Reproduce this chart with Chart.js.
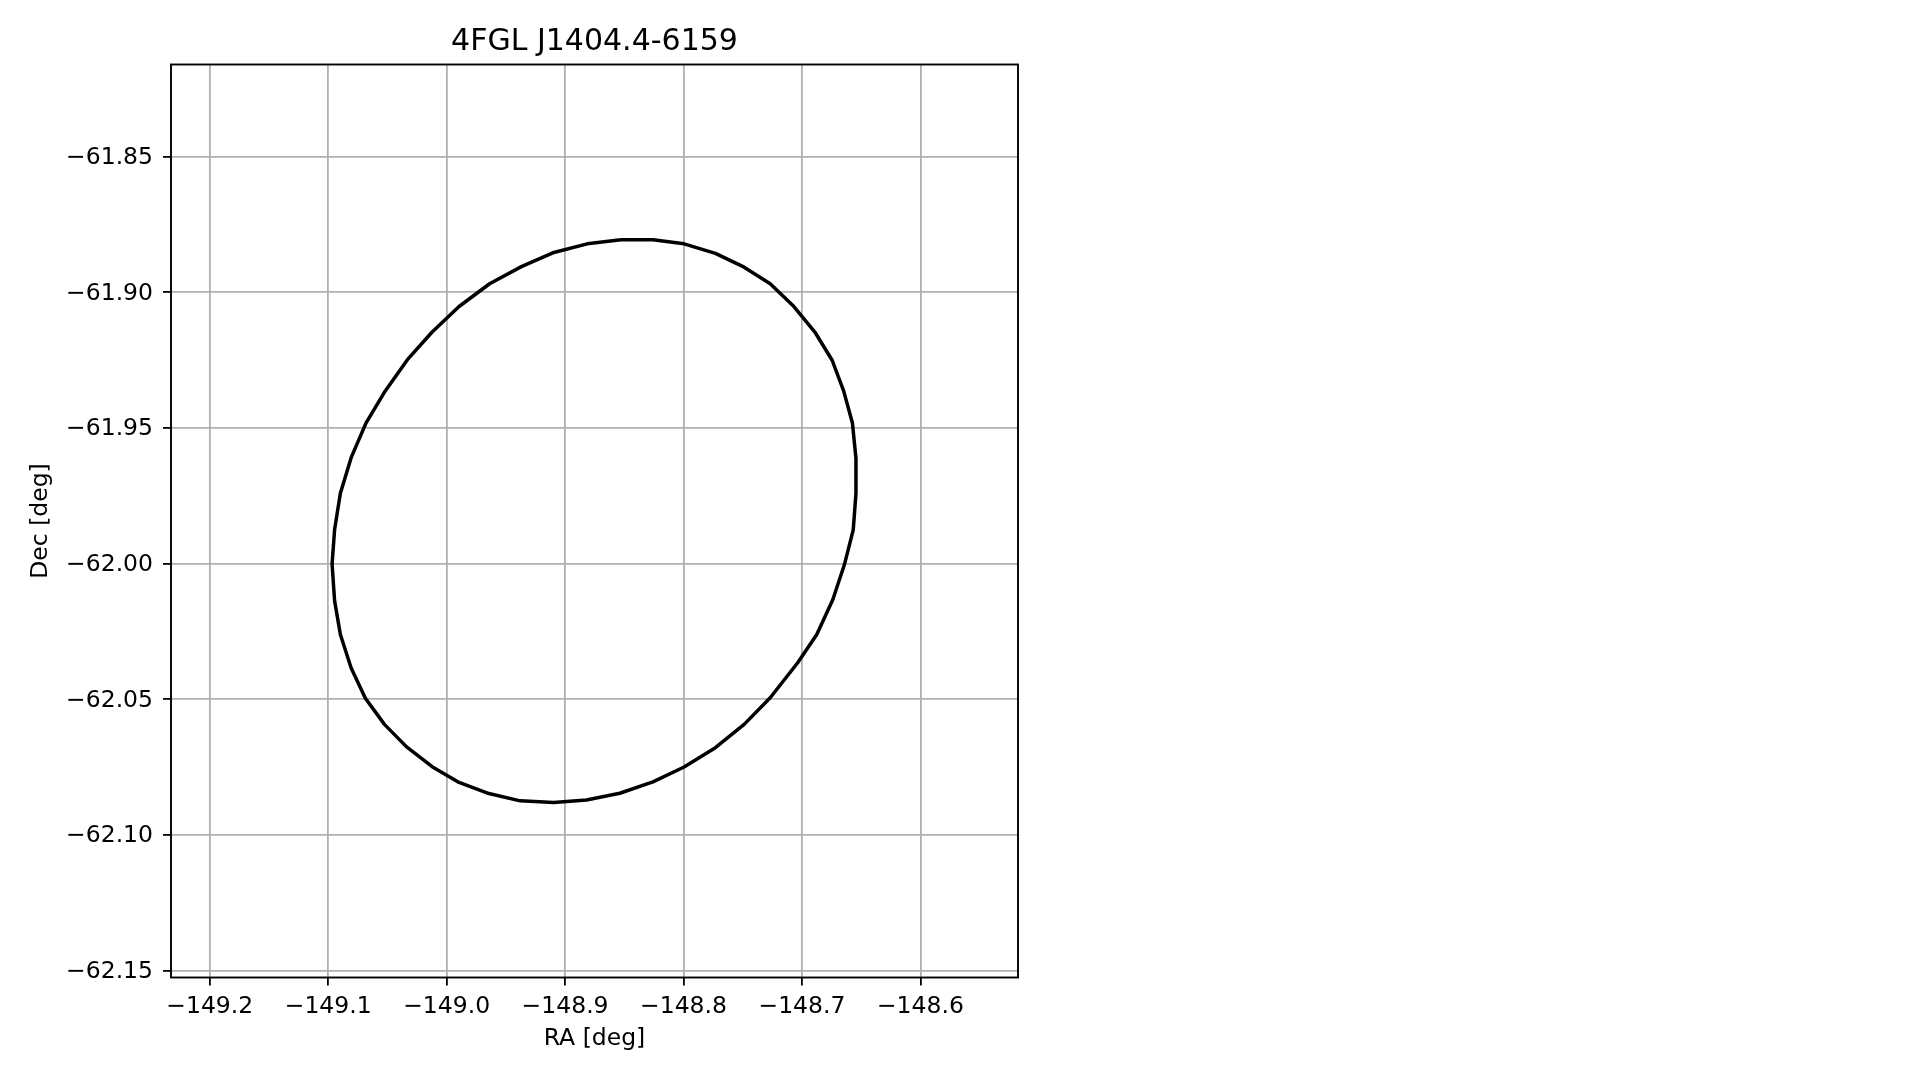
<!DOCTYPE html>
<html>
<head>
<meta charset="utf-8">
<script src="https://cdn.jsdelivr.net/npm/chart.js@4/dist/chart.umd.min.js"></script>
<style>
  html, body { margin: 0; padding: 0; background: #fff; }
  #wrap { width: 1919px; height: 1080px; }
</style>
</head>
<body>
<div id="wrap"><canvas id="chart-ellipse" width="1919" height="1080"></canvas></div>
<script>
/* Source error ellipse (clockwise from the top) */
const TITLE = '4FGL J1404.4-6159';
const X_LABEL = 'RA [deg]';
const Y_LABEL = 'Dec [deg]';

const raValues = [
  -148.8529, -148.8258, -148.7995, -148.7731, -148.7488, -148.7268, -148.7068,
  -148.6891, -148.6745, -148.6648, -148.6574, -148.6544, -148.6544, -148.6567,
  -148.6642, -148.6739, -148.6875, -148.7036, -148.7268, -148.7488, -148.7731,
  -148.7995, -148.8258, -148.8538, -148.8819, -148.9097, -148.9379, -148.9643,
  -148.9895, -149.0122, -149.0338, -149.0525, -149.0686, -149.0806, -149.0897,
  -149.0946, -149.0967, -149.0946, -149.0897, -149.0806, -149.0680, -149.0518,
  -149.0331, -149.0122, -148.9895, -148.9637, -148.9369, -148.9103, -148.8813,
  -148.8529
];
const decValues = [
  -61.8807, -61.8807, -61.8822, -61.8857, -61.8908, -61.8969, -61.9053,
  -61.9147, -61.9251, -61.9364, -61.9482, -61.9613, -61.9741, -61.9876,
  -62.0005, -62.0133, -62.0262, -62.0366, -62.0495, -62.0593, -62.0679,
  -62.0750, -62.0805, -62.0847, -62.0872, -62.0881, -62.0875, -62.0848,
  -62.0807, -62.0749, -62.0676, -62.0593, -62.0497, -62.0385, -62.0262,
  -62.0137, -62.0002, -61.9876, -61.9741, -61.9610, -61.9482, -61.9364,
  -61.9249, -61.9147, -61.9053, -61.8969, -61.8906, -61.8855, -61.8822,
  -61.8807
];

/* axis limits and tick spacing */
const xLimits = [-149.2327, -148.5176];
const yLimits = [-62.1526, -61.8161];
const xStep = 0.1;
const yStep = 0.05;

const FONT = "'DejaVu Sans', 'Liberation Sans', sans-serif";
const GRID = '#b0b0b0';

/* matplotlib-style minus sign */
function fmt(v, d) {
  const s = Math.abs(v).toFixed(d);
  return v < 0 ? '\u2212' + s : s;
}

/* black spines round the plot area + title centred over the axes (not the canvas) */
const frame = {
  id: 'frame',
  afterDraw(chart) {
    const a = chart.chartArea, ctx = chart.ctx;
    ctx.save();
    ctx.strokeStyle = '#000';
    ctx.lineWidth = 1.9;
    ctx.lineJoin = 'miter';
    ctx.strokeRect(a.left, a.top, a.right - a.left, a.bottom - a.top);

    ctx.fillStyle = '#000';
    ctx.font = '30px ' + FONT;
    ctx.textAlign = 'center';
    ctx.textBaseline = 'alphabetic';
    ctx.fillText(TITLE, (a.left + a.right) / 2, 49.5);
    ctx.restore();
  }
};

const points = raValues.map((x, i) => ({ x, y: decValues[i] }));

new Chart(document.getElementById('chart-ellipse'), {
  type: 'scatter',
  data: {
    datasets: [{
      data: points,
      showLine: true,
      fill: false,
      borderColor: '#000',
      borderWidth: 3.5,
      borderJoinStyle: 'round',
      tension: 0,
      pointRadius: 0,
      pointHoverRadius: 0
    }]
  },
  options: {
    responsive: false,
    animation: false,
    events: [],
    layout: { padding: { left: 0, right: 901, top: 64.5, bottom: 0 } },
    plugins: {
      legend: { display: false },
      tooltip: { enabled: false },
      title: { display: false }
    },
    scales: {
      x: {
        type: 'linear',
        min: xLimits[0],
        max: xLimits[1],
        afterFit: s => { s.height = 102.5; },
        border: { display: false },
        grid: { color: GRID, lineWidth: 1.8, tickColor: '#000', tickLength: 8, tickWidth: 1.8 },
        ticks: {
          stepSize: xStep,
          includeBounds: false,
          autoSkip: false,
          maxRotation: 0,
          padding: 7.7,
          color: '#000',
          font: { family: FONT, size: 23.5 },
          callback: v => fmt(v, 1)
        },
        title: {
          display: true,
          text: X_LABEL,
          color: '#000',
          font: { family: FONT, size: 23.5 },
          padding: { top: 0, bottom: 27.5 }
        }
      },
      y: {
        type: 'linear',
        min: yLimits[0],
        max: yLimits[1],
        afterFit: s => { s.width = 171; },
        border: { display: false },
        grid: { color: GRID, lineWidth: 1.8, tickColor: '#000', tickLength: 8, tickWidth: 1.8 },
        ticks: {
          stepSize: yStep,
          includeBounds: false,
          autoSkip: false,
          padding: 10,
          labelOffset: 1.5,
          color: '#000',
          font: { family: FONT, size: 23.5 },
          callback: v => fmt(v, 2)
        },
        title: {
          display: true,
          text: Y_LABEL,
          color: '#000',
          font: { family: FONT, size: 23.5 },
          padding: { top: 26.5, bottom: 0 }
        }
      }
    }
  },
  plugins: [frame]
});
</script>
</body>
</html>
